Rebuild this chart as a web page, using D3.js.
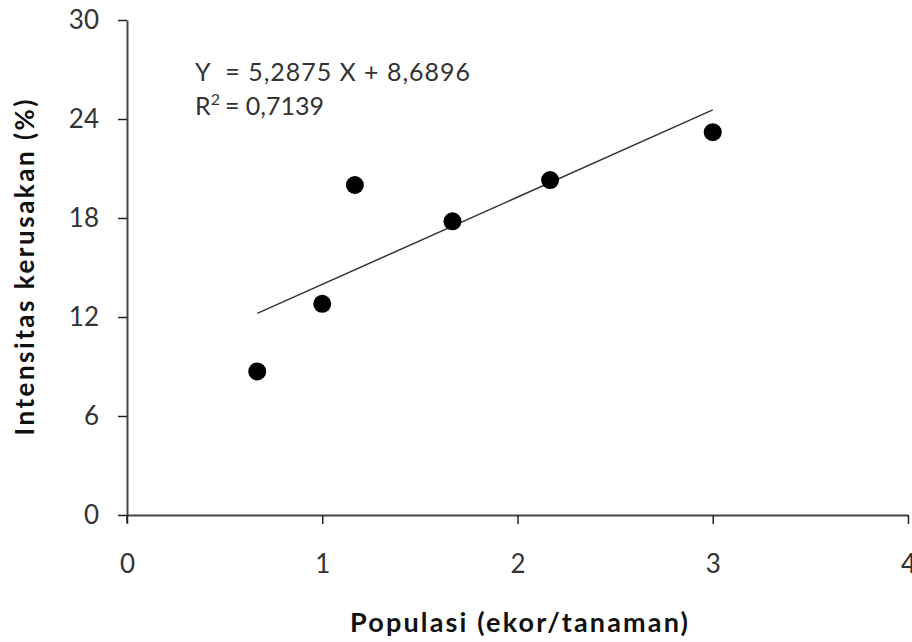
<!DOCTYPE html>
<html>
<head>
<meta charset="utf-8">
<script src="https://cdn.jsdelivr.net/npm/d3@7"></script>
<style>
  body { margin: 0; background: #fff; }
  text { font-family: Lato, "Open Sans", sans-serif; }
</style>
</head>
<body>
<div id="container"></div>
<script>
/* DATA */
const populasi = [0.667, 1.0, 1.167, 1.667, 2.167, 3.0];
const intensitas = [8.7, 12.8, 20.0, 17.8, 20.3, 23.2];
const xTicks = [0, 1, 2, 3, 4];
const yTicks = [0, 6, 12, 18, 24, 30];
const slope = 5.2875, intercept = 8.6896;
const eqLines = ["Y  = 5,2875 X + 8,6896", "R", "= 0,7139"];

/* CONSTANTS */
const width = 912, height = 642,
  margin = { top: 20, bottom: 127, left: 127, right: 4 };

const xScale = d3.scaleLinear()
  .domain([0, 4])
  .range([margin.left, width - margin.right]);

const yScale = d3.scaleLinear()
  .domain([0, 30])
  .range([height - margin.bottom, margin.top]);

const svg = d3.select("#container")
  .append("svg")
  .attr("width", width)
  .attr("height", height);

// axes
const xAxis = d3.axisBottom(xScale).tickValues(xTicks).tickFormat(d3.format("d"))
  .tickSize(9).tickPadding(31).tickSizeOuter(0);
const gx = svg.append("g")
  .attr("transform", `translate(0,${yScale(0)})`)
  .call(xAxis);

const yAxis = d3.axisLeft(yScale).tickValues(yTicks).tickFormat(d3.format("d"))
  .tickSize(9).tickPadding(19).tickSizeOuter(0);
const gy = svg.append("g")
  .attr("transform", `translate(${xScale(0)},0)`)
  .call(yAxis);

[gx, gy].forEach(g => {
  g.select(".domain").attr("stroke", "#444").attr("stroke-width", 2);
  g.selectAll(".tick line").attr("stroke", "#222").attr("stroke-width", 1.5);
  g.selectAll(".tick text").attr("fill", "#333").style("font-size", "26px");
});
// y axis runs a little below zero
svg.append("line")
  .attr("x1", xScale(0)).attr("x2", xScale(0))
  .attr("y1", yScale(0)).attr("y2", yScale(0) + 8)
  .attr("stroke", "#222").attr("stroke-width", 1.5);

// trend line
const xs = d3.extent(populasi);
svg.append("path")
  .datum(xs)
  .attr("fill", "none")
  .attr("stroke", "#333")
  .attr("stroke-width", 1.5)
  .attr("d", d3.line().x(d => xScale(d)).y(d => yScale(slope * d + intercept)));

// points
svg.selectAll("circle")
  .data(populasi.map((x, i) => ({ x, y: intensitas[i] })))
  .join("circle")
  .attr("cx", d => xScale(d.x))
  .attr("cy", d => yScale(d.y))
  .attr("r", 9)
  .attr("fill", "#000");

// equation
svg.append("text")
  .attr("x", 195).attr("y", 81)
  .attr("fill", "#333")
  .style("font-size", "25px")
  .attr("xml:space", "preserve")
  .attr("textLength", 275)
  .attr("lengthAdjust", "spacing")
  .text(eqLines[0]);
const r2 = svg.append("text")
  .attr("x", 195).attr("y", 115)
  .attr("fill", "#333")
  .style("font-size", "25px");
r2.append("tspan").text(eqLines[1]);
r2.append("tspan").attr("dy", -10).style("font-size", "16px").text("2");
r2.append("tspan").attr("dy", 10).attr("dx", 5).text(eqLines[2]);

// axis labels
svg.append("text")
  .attr("x", 519)
  .attr("y", 632)
  .style("text-anchor", "middle")
  .style("font-size", "27px")
  .style("font-weight", "bold")
  .attr("fill", "#111")
  .attr("textLength", 338)
  .attr("lengthAdjust", "spacing")
  .text("Populasi (ekor/tanaman)");

svg.append("text")
  .attr("transform", `translate(34,${(yScale(0) + yScale(30)) / 2}) rotate(-90)`)
  .style("text-anchor", "middle")
  .style("font-size", "26px")
  .style("font-weight", "bold")
  .attr("fill", "#111")
  .attr("textLength", 336)
  .attr("lengthAdjust", "spacing")
  .text("Intensitas kerusakan (%)");
</script>
</body>
</html>
